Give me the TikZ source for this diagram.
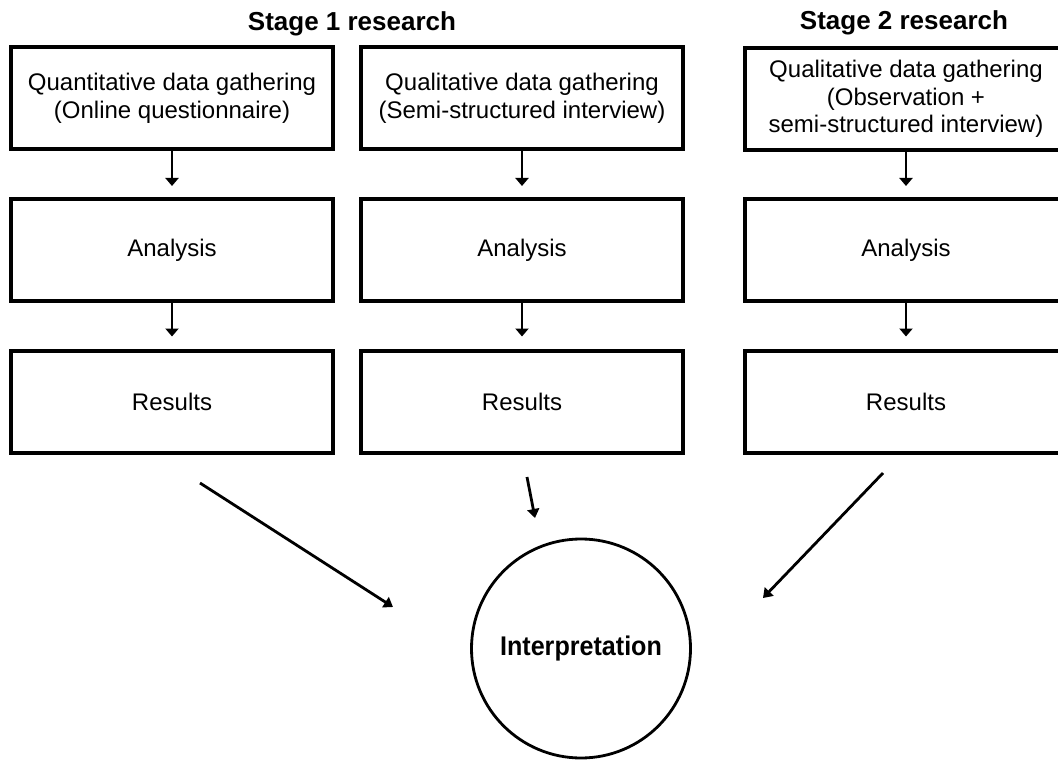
\documentclass[tikz,border=0pt]{standalone}
\usepackage{fontspec}
\setmainfont{Liberation Sans}
\newfontfamily\condfont[FakeStretch=0.93]{Liberation Sans}
\usetikzlibrary{arrows.meta,calc}

\begin{document}
\begin{tikzpicture}[x=1pt,y=-1pt,
  box/.style={draw,line width=4pt,minimum width=322pt,minimum height=102pt,
    inner sep=0pt,align=center,font=\fontsize{24}{27.5}\selectfont},
  stagetitle/.style={anchor=base,inner sep=0pt,font=\bfseries\fontsize{26}{30}\selectfont},
  varr/.style={line width=2.8pt,-{Triangle[length=8pt,width=13pt]}},
  darr/.style={line width=2.8pt,-{Triangle[length=9pt,width=12pt]}}]

\useasboundingbox (0,0) rectangle (1058,762);
\clip (0,0) rectangle (1058,762);

% stage headings
\node[stagetitle] (t1) at (352,31) {Stage 1 research};
\node[stagetitle] (t2) at (904,30) {Stage 2 research};

% data gathering
\node[box] (q1) at (172,98.5) {Quantitative data gathering\\(Online questionnaire)};
\node[box] (q2) at (522,98.5) {Qualitative data gathering\\(Semi-structured interview)};
\node[box] (q3) at (906,99) {Qualitative data gathering\\(Observation +\\semi-structured interview)};

% analysis
\node[box] (a1) at (172,250) {Analysis};
\node[box] (a2) at (522,250) {Analysis};
\node[box] (a3) at (906,250) {Analysis};

% results
\node[box] (r1) at (172,401.5) {Results};
\node[box] (r2) at (522,401.5) {Results};
\node[box] (r3) at (906,401.5) {Results};

% interpretation
\node[circle,draw,line width=2.8pt,minimum size=219pt,inner sep=0pt,
  font=\condfont\bfseries\fontsize{27}{30}\selectfont] (interp) at (581,648.5) {Interpretation};

% vertical flow within each column
\foreach \c in {1,2,3}{
  \draw[varr] (q\c.south) -- ([yshift=11pt]a\c.north);
  \draw[varr] (a\c.south) -- ([yshift=12pt]r\c.north);
}

% results feeding the interpretation
\coordinate (l0) at (200,483);
\coordinate (l1) at (393,607);
\coordinate (m0) at (527,477);
\coordinate (m1) at (535,518);
\coordinate (k0) at (883,473);
\coordinate (k1) at (763,598);
\draw[darr] (l0) -- (l1);
\draw[darr] (m0) -- (m1);
\draw[darr] (k0) -- (k1);

\end{tikzpicture}
\end{document}
